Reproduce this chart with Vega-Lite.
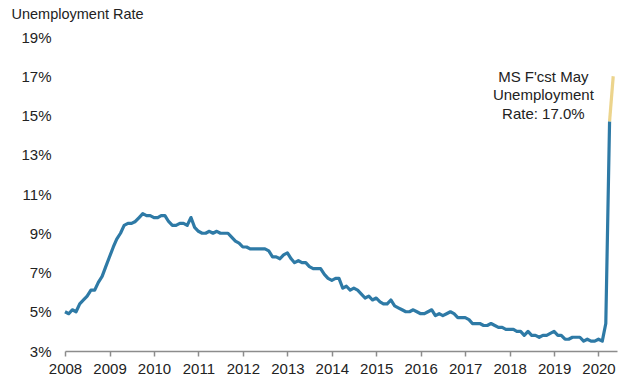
{
  "$schema": "https://vega.github.io/schema/vega-lite/v6.json",
  "autosize": {"type": "none"},
  "padding": {"left": 65, "top": 37, "right": 15, "bottom": 37},
  "width": 552,
  "height": 314,
  "background": "white",
  "config": {
    "view": {"stroke": null},
    "font": "Liberation Sans",
    "axis": {"labelFont": "Liberation Sans", "titleFont": "Liberation Sans", "labelColor": "#222222", "titleColor": "#222222", "grid": false}
  },
  "datasets": {
    "ur": [
      {"date": "2008-01-01", "rate": 5.0}, {"date": "2008-02-01", "rate": 4.9}, {"date": "2008-03-01", "rate": 5.1}, {"date": "2008-04-01", "rate": 5.0},
      {"date": "2008-05-01", "rate": 5.4}, {"date": "2008-06-01", "rate": 5.6}, {"date": "2008-07-01", "rate": 5.8}, {"date": "2008-08-01", "rate": 6.1},
      {"date": "2008-09-01", "rate": 6.1}, {"date": "2008-10-01", "rate": 6.5}, {"date": "2008-11-01", "rate": 6.8}, {"date": "2008-12-01", "rate": 7.3},
      {"date": "2009-01-01", "rate": 7.8}, {"date": "2009-02-01", "rate": 8.3}, {"date": "2009-03-01", "rate": 8.7}, {"date": "2009-04-01", "rate": 9.0},
      {"date": "2009-05-01", "rate": 9.4}, {"date": "2009-06-01", "rate": 9.5}, {"date": "2009-07-01", "rate": 9.5}, {"date": "2009-08-01", "rate": 9.6},
      {"date": "2009-09-01", "rate": 9.8}, {"date": "2009-10-01", "rate": 10.0}, {"date": "2009-11-01", "rate": 9.9}, {"date": "2009-12-01", "rate": 9.9},
      {"date": "2010-01-01", "rate": 9.8}, {"date": "2010-02-01", "rate": 9.8}, {"date": "2010-03-01", "rate": 9.9}, {"date": "2010-04-01", "rate": 9.9},
      {"date": "2010-05-01", "rate": 9.6}, {"date": "2010-06-01", "rate": 9.4}, {"date": "2010-07-01", "rate": 9.4}, {"date": "2010-08-01", "rate": 9.5},
      {"date": "2010-09-01", "rate": 9.5}, {"date": "2010-10-01", "rate": 9.4}, {"date": "2010-11-01", "rate": 9.8}, {"date": "2010-12-01", "rate": 9.3},
      {"date": "2011-01-01", "rate": 9.1}, {"date": "2011-02-01", "rate": 9.0}, {"date": "2011-03-01", "rate": 9.0}, {"date": "2011-04-01", "rate": 9.1},
      {"date": "2011-05-01", "rate": 9.0}, {"date": "2011-06-01", "rate": 9.1}, {"date": "2011-07-01", "rate": 9.0}, {"date": "2011-08-01", "rate": 9.0},
      {"date": "2011-09-01", "rate": 9.0}, {"date": "2011-10-01", "rate": 8.8}, {"date": "2011-11-01", "rate": 8.6}, {"date": "2011-12-01", "rate": 8.5},
      {"date": "2012-01-01", "rate": 8.3}, {"date": "2012-02-01", "rate": 8.3}, {"date": "2012-03-01", "rate": 8.2}, {"date": "2012-04-01", "rate": 8.2},
      {"date": "2012-05-01", "rate": 8.2}, {"date": "2012-06-01", "rate": 8.2}, {"date": "2012-07-01", "rate": 8.2}, {"date": "2012-08-01", "rate": 8.1},
      {"date": "2012-09-01", "rate": 7.8}, {"date": "2012-10-01", "rate": 7.8}, {"date": "2012-11-01", "rate": 7.7}, {"date": "2012-12-01", "rate": 7.9},
      {"date": "2013-01-01", "rate": 8.0}, {"date": "2013-02-01", "rate": 7.7}, {"date": "2013-03-01", "rate": 7.5}, {"date": "2013-04-01", "rate": 7.6},
      {"date": "2013-05-01", "rate": 7.5}, {"date": "2013-06-01", "rate": 7.5}, {"date": "2013-07-01", "rate": 7.3}, {"date": "2013-08-01", "rate": 7.2},
      {"date": "2013-09-01", "rate": 7.2}, {"date": "2013-10-01", "rate": 7.2}, {"date": "2013-11-01", "rate": 6.9}, {"date": "2013-12-01", "rate": 6.7},
      {"date": "2014-01-01", "rate": 6.6}, {"date": "2014-02-01", "rate": 6.7}, {"date": "2014-03-01", "rate": 6.7}, {"date": "2014-04-01", "rate": 6.2},
      {"date": "2014-05-01", "rate": 6.3}, {"date": "2014-06-01", "rate": 6.1}, {"date": "2014-07-01", "rate": 6.2}, {"date": "2014-08-01", "rate": 6.1},
      {"date": "2014-09-01", "rate": 5.9}, {"date": "2014-10-01", "rate": 5.7}, {"date": "2014-11-01", "rate": 5.8}, {"date": "2014-12-01", "rate": 5.6},
      {"date": "2015-01-01", "rate": 5.7}, {"date": "2015-02-01", "rate": 5.5}, {"date": "2015-03-01", "rate": 5.4}, {"date": "2015-04-01", "rate": 5.4},
      {"date": "2015-05-01", "rate": 5.6}, {"date": "2015-06-01", "rate": 5.3}, {"date": "2015-07-01", "rate": 5.2}, {"date": "2015-08-01", "rate": 5.1},
      {"date": "2015-09-01", "rate": 5.0}, {"date": "2015-10-01", "rate": 5.0}, {"date": "2015-11-01", "rate": 5.1}, {"date": "2015-12-01", "rate": 5.0},
      {"date": "2016-01-01", "rate": 4.9}, {"date": "2016-02-01", "rate": 4.9}, {"date": "2016-03-01", "rate": 5.0}, {"date": "2016-04-01", "rate": 5.1},
      {"date": "2016-05-01", "rate": 4.8}, {"date": "2016-06-01", "rate": 4.9}, {"date": "2016-07-01", "rate": 4.8}, {"date": "2016-08-01", "rate": 4.9},
      {"date": "2016-09-01", "rate": 5.0}, {"date": "2016-10-01", "rate": 4.9}, {"date": "2016-11-01", "rate": 4.7}, {"date": "2016-12-01", "rate": 4.7},
      {"date": "2017-01-01", "rate": 4.7}, {"date": "2017-02-01", "rate": 4.6}, {"date": "2017-03-01", "rate": 4.4}, {"date": "2017-04-01", "rate": 4.4},
      {"date": "2017-05-01", "rate": 4.4}, {"date": "2017-06-01", "rate": 4.3}, {"date": "2017-07-01", "rate": 4.3}, {"date": "2017-08-01", "rate": 4.4},
      {"date": "2017-09-01", "rate": 4.3}, {"date": "2017-10-01", "rate": 4.2}, {"date": "2017-11-01", "rate": 4.2}, {"date": "2017-12-01", "rate": 4.1},
      {"date": "2018-01-01", "rate": 4.1}, {"date": "2018-02-01", "rate": 4.1}, {"date": "2018-03-01", "rate": 4.0}, {"date": "2018-04-01", "rate": 4.0},
      {"date": "2018-05-01", "rate": 3.8}, {"date": "2018-06-01", "rate": 4.0}, {"date": "2018-07-01", "rate": 3.8}, {"date": "2018-08-01", "rate": 3.8},
      {"date": "2018-09-01", "rate": 3.7}, {"date": "2018-10-01", "rate": 3.8}, {"date": "2018-11-01", "rate": 3.8}, {"date": "2018-12-01", "rate": 3.9},
      {"date": "2019-01-01", "rate": 4.0}, {"date": "2019-02-01", "rate": 3.8}, {"date": "2019-03-01", "rate": 3.8}, {"date": "2019-04-01", "rate": 3.6},
      {"date": "2019-05-01", "rate": 3.6}, {"date": "2019-06-01", "rate": 3.7}, {"date": "2019-07-01", "rate": 3.7}, {"date": "2019-08-01", "rate": 3.7},
      {"date": "2019-09-01", "rate": 3.5}, {"date": "2019-10-01", "rate": 3.6}, {"date": "2019-11-01", "rate": 3.5}, {"date": "2019-12-01", "rate": 3.5},
      {"date": "2020-01-01", "rate": 3.6}, {"date": "2020-02-01", "rate": 3.5}, {"date": "2020-03-01", "rate": 4.4}, {"date": "2020-04-01", "rate": 14.7}
    ],
    "fcst": [
      {"date": "2020-04-01", "rate": 14.7},
      {"date": "2020-05-01", "rate": 17.0}
    ],
    "note": [
      {"date": "2018-10-05", "rate": 16.98}
    ]
  },
  "encoding": {
    "x": {
      "field": "date", "type": "temporal", "title": null,
      "scale": {"type": "utc", "domain": [{"year": 2008, "month": 1, "date": 1, "utc": true}, {"year": 2020, "month": 6, "date": 1, "utc": true}]},
      "axis": {
        "tickCount": {"interval": "year", "step": 1},
        "format": "%Y",
        "labelFontSize": 15,
        "labelPadding": 5,
        "labelFlush": false,
        "labelOverlap": false,
        "domainColor": "#8c8c8c",
        "domainWidth": 1.5,
        "tickColor": "#8c8c8c",
        "tickWidth": 1.5,
        "tickSize": 5
      }
    },
    "y": {
      "field": "rate", "type": "quantitative",
      "scale": {"domain": [3, 19], "nice": false, "zero": false},
      "axis": {
        "values": [3, 5, 7, 9, 11, 13, 15, 17, 19],
        "labelExpr": "datum.value + '%'",
        "labelFontSize": 15,
        "labelPadding": 14,
        "labelOverlap": false,
        "labelFlush": false,
        "domain": false,
        "ticks": false,
        "tickSize": 0,
        "title": "Unemployment Rate",
        "titleAngle": 0,
        "titleAlign": "left",
        "titleBaseline": "middle",
        "titleFontSize": 14.5,
        "titleFontWeight": "normal",
        "titleX": -54,
        "titleY": -23
      }
    }
  },
  "layer": [
    {
      "data": {"name": "ur"},
      "mark": {"type": "line", "color": "#2e7aa6", "strokeWidth": 3.2, "strokeJoin": "round", "strokeCap": "butt"}
    },
    {
      "data": {"name": "fcst"},
      "mark": {"type": "line", "color": "#ecd48c", "strokeWidth": 3.2, "strokeCap": "butt"}
    },
    {
      "data": {"name": "note"},
      "mark": {"type": "text", "align": "center", "baseline": "middle", "fontSize": 15, "lineHeight": 18.5, "color": "#222222", "font": "Liberation Sans",
               "text": ["MS F'cst May", "Unemployment", "Rate: 17.0%"]}
    }
  ]
}
